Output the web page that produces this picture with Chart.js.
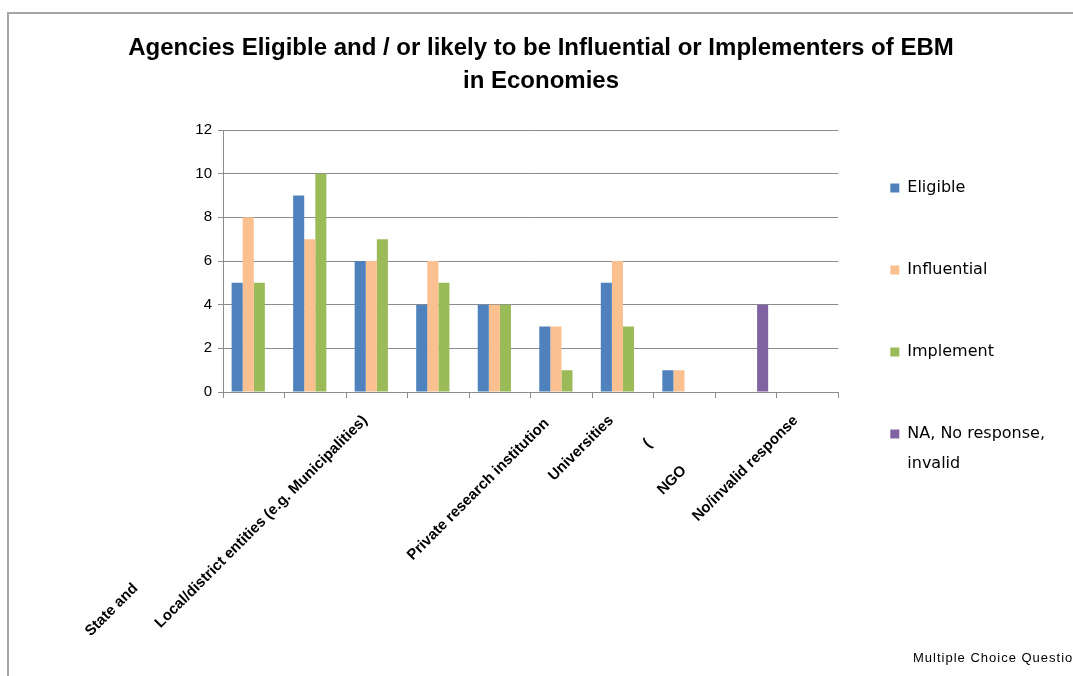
<!DOCTYPE html>
<html>
<head>
<meta charset="utf-8">
<script src="https://cdn.jsdelivr.net/npm/chart.js@4"></script>
<style>
  html, body { margin: 0; padding: 0; background: #fff; overflow: hidden; }
  #frame { position: absolute; left: 7px; top: 12px; width: 2000px; height: 2000px;
           border-left: 2px solid #a6a6a6; border-top: 2px solid #a6a6a6; }
  #chart { position: absolute; left: 0; top: 0; }
  #note { position: absolute; left: 913px; top: 650px; white-space: nowrap;
          font: 13px "Liberation Sans", Arial, sans-serif; letter-spacing: 1px; color: #000; }
</style>
</head>
<body>
<div id="frame"></div>
<canvas id="chart" width="1073" height="676"></canvas>
<div id="note">Multiple Choice Questions</div>
<script>
// categories as they appear under the axis
const categories = ['', 'State and', 'Local/district entities (e.g. Municipalities)', '', '',
                    'Private research institution', 'Universities', '(', 'NGO', 'No/invalid response'];
const eligible    = [5, 9, 6, 4, 4, 3, 5, 1, null, null];
const influential = [8, 7, 6, 6, 4, 3, 6, 1, null, null];
const implement   = [5, 10, 7, 5, 4, 1, 3, null, null, null];
const naInvalid   = [null, null, null, null, null, null, null, null, 4, null];
const yTicks = [0, 2, 4, 6, 8, 10, 12];

// trailing blanks push the rotated labels further down the diagonal, like the original
const labelShift = [0, 61, 4, 0, 0, 5, 4, 12, 21, 4];

const ctx = document.getElementById('chart');
const chart = new Chart(ctx, {
    type: 'bar',
    data: {
        labels: categories,
        datasets: [
            { label: 'Eligible', data: eligible, backgroundColor: '#4f81bd' },
            { label: 'Influential', data: influential, backgroundColor: '#fac090' },
            { label: 'Implement', data: implement, backgroundColor: '#9bbb59' },
            { label: 'NA, No response, invalid', data: naInvalid, backgroundColor: '#8064a2' }
        ]
    },
    options: {
        responsive: false,
        animation: false,
        devicePixelRatio: 1,
        datasets: {
            bar: { barPercentage: 1, categoryPercentage: 0.72 }
        },
        layout: {
            padding: { left: 27, right: 18, top: 0, bottom: 0 }
        },
        scales: {
            x: {
                grid: { display: true, drawOnChartArea: false, drawTicks: true, tickLength: 6, color: '#8c8c8c' },
                border: { color: '#8c8c8c', width: 1 },
                ticks: {
                    autoSkip: false,
                    minRotation: 45,
                    maxRotation: 45,
                    padding: 2,
                    color: '#000',
                    font: { family: '"Liberation Sans", Arial, sans-serif', size: 15, weight: 'bold' },
                    callback: function (value, index) {
                        return this.getLabelForValue(value) + ' '.repeat(labelShift[index]);
                    }
                },
                afterFit: function (scale) { scale.height = 284; }
            },
            y: {
                min: 0,
                max: 12,
                afterBuildTicks: function (scale) { scale.ticks = yTicks.map(v => ({ value: v })); },
                grid: { color: '#8c8c8c', tickLength: 5 },
                border: { color: '#8c8c8c', width: 1 },
                ticks: {
                    color: '#000',
                    padding: 6,
                    font: { family: '"Liberation Sans Narrow", "Liberation Sans", Arial, sans-serif', size: 15 }
                },
                afterFit: function (scale) { scale.width = 196; }
            }
        },
        plugins: {
            title: {
                display: true,
                text: ['Agencies Eligible and / or likely to be Influential or Implementers of EBM', 'in Economies'],
                color: '#000',
                font: { family: '"Liberation Sans Narrow", "Liberation Sans", Arial, sans-serif', size: 24, weight: 'bold', lineHeight: 1.375 },
                padding: { top: 32, bottom: 32 }
            },
            legend: {
                position: 'right',
                align: 'start',
                title: {
                    display: true,
                    text: '',
                    font: { size: 10, lineHeight: 1 },
                    padding: { top: 118, bottom: 0 }
                },
                labels: {
                    boxWidth: 9,
                    boxHeight: 9,
                    padding: 52,
                    color: '#000',
                    font: { family: '"DejaVu Sans", sans-serif', size: 16, lineHeight: 1.875 },
                    generateLabels: function (c) {
                        const items = Chart.defaults.plugins.legend.labels.generateLabels(c);
                        items.forEach(it => { it.text = it.text.replace(', invalid', ',\ninvalid').split('\n'); });
                        return items;
                    }
                }
            },
            tooltip: { enabled: false }
        }
    }
});
</script>
</body>
</html>
